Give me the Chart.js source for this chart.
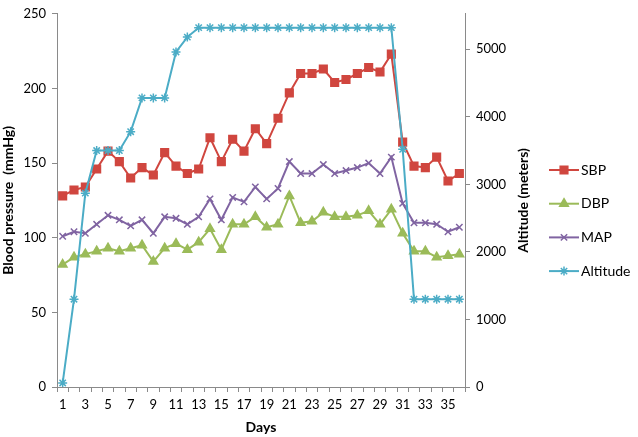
<!DOCTYPE html>
<html>
<head>
<meta charset="utf-8">
<script src="https://cdn.jsdelivr.net/npm/chart.js@4.4.1/dist/chart.umd.min.js"></script>
<style>
  html, body { margin: 0; padding: 0; background: #fff; }
  #wrap { width: 638px; height: 437px; }
</style>
</head>
<body>
<div id="wrap"><canvas id="bpChart"></canvas></div>
<script>
// days of the trek
const days = [1, 2, 3, 4, 5, 6, 7, 8, 9, 10, 11, 12, 13, 14, 15, 16, 17, 18,
              19, 20, 21, 22, 23, 24, 25, 26, 27, 28, 29, 30, 31, 32, 33, 34, 35, 36];

// blood pressure (mmHg)
const sbp = [128, 132, 134, 146, 158, 151, 140, 147, 142, 157, 148, 143, 146, 167, 151, 166, 158, 173,
             163, 180, 197, 210, 210, 213, 204, 206, 210, 214, 211, 223, 164, 148, 147, 154, 138, 143];
const dbp = [82, 87, 89, 91, 93, 91, 93, 95, 84, 93, 96, 92, 97, 106, 92, 109, 109, 114,
             107, 109, 128, 110, 111, 117, 114, 114, 115, 118, 109, 119, 103, 91, 91, 87, 88, 89];
const map = [101, 104, 103, 109, 115, 112, 108, 112, 103, 114, 113, 109, 114, 126, 112, 127, 124, 134,
             126, 133, 151, 143, 143, 149, 143, 145, 147, 150, 143, 154, 123, 110, 110, 109, 104, 107];

// altitude (meters)
const altitude = [60, 1300, 2870, 3500, 3500, 3500, 3780, 4280, 4280, 4280, 4960, 5180, 5320, 5320, 5320, 5320, 5320, 5320,
                  5320, 5320, 5320, 5320, 5320, 5320, 5320, 5320, 5320, 5320, 5320, 5320, 3520, 1300, 1300, 1300, 1300, 1300];

// tick labels
const dayTickLabels = [1, 3, 5, 7, 9, 11, 13, 15, 17, 19, 21, 23, 25, 27, 29, 31, 33, 35];
const bpTicks = [0, 50, 100, 150, 200, 250];
const altTicks = [0, 1000, 2000, 3000, 4000, 5000];

const FONT = 'Lato, "Open Sans", sans-serif';
const AXIS_GREY = '#8a8a8a';

const series = [
  { label: 'SBP', data: sbp, color: '#D0463F', style: 'rect', radius: 5.4, axis: 'y' },
  { label: 'DBP', data: dbp, color: '#9BBB59', style: 'triangle', radius: 5, axis: 'y' },
  { label: 'MAP', data: map, color: '#8064A2', style: 'crossRot', radius: 4.5, axis: 'y' },
  { label: 'Altitude', data: altitude, color: '#4BACC6', style: 'star', radius: 4.5, axis: 'y1' }
];

// right axis title + excel style legend (line with marker)
const extras = {
  id: 'extras',
  afterDraw(chart) {
    const ctx = chart.ctx;
    const area = chart.chartArea;
    ctx.save();
    ctx.translate(523, (area.top + area.bottom) / 2);
    ctx.rotate(-Math.PI / 2);
    ctx.font = 'bold 14px ' + FONT;
    ctx.fillStyle = '#000';
    ctx.textAlign = 'center';
    ctx.textBaseline = 'middle';
    ctx.fillText('Altitude (meters)', 0, 0);
    ctx.restore();

    series.forEach((s, i) => {
      const y = 170 + i * 33.7;
      ctx.save();
      ctx.strokeStyle = s.color;
      ctx.fillStyle = s.color;
      ctx.lineWidth = 2;
      ctx.beginPath();
      ctx.moveTo(549, y);
      ctx.lineTo(579, y);
      ctx.stroke();
      ctx.lineWidth = 1.5;
      Chart.helpers.drawPoint(ctx, { pointStyle: s.style, radius: s.radius, rotation: 0, borderWidth: 1.5 }, 564, y);
      ctx.fillStyle = '#000';
      ctx.font = '14px ' + FONT;
      ctx.textAlign = 'left';
      ctx.textBaseline = 'middle';
      ctx.fillText(s.label, 581, y);
      ctx.restore();
    });
  }
};

new Chart(document.getElementById('bpChart').getContext('2d'), {
  type: 'line',
  data: {
    labels: days,
    datasets: series.map((s, i) => ({
      label: s.label,
      data: s.data,
      yAxisID: s.axis,
      borderColor: s.color,
      backgroundColor: s.color,
      borderWidth: 2,
      pointStyle: s.style,
      pointRadius: s.radius,
      pointBorderWidth: 1.5,
      pointBackgroundColor: s.color,
      pointBorderColor: s.color,
      tension: 0,
      order: s.label === 'Altitude' ? 0 : i + 1
    }))
  },
  options: {
    responsive: true,
    maintainAspectRatio: false,
    animation: false,
    layout: { padding: { top: 4 } },
    plugins: {
      legend: { display: false },
      tooltip: { enabled: false },
      title: { display: false }
    },
    scales: {
      x: {
        type: 'category',
        offset: true,
        grid: { display: true, drawOnChartArea: false, offset: true, tickLength: 5, color: AXIS_GREY },
        border: { color: AXIS_GREY, width: 1 },
        ticks: {
          autoSkip: false,
          maxRotation: 0,
          padding: 5,
          color: '#000',
          font: { family: FONT, size: 13 },
          callback: function(value) {
            const d = days[value];
            return dayTickLabels.includes(d) ? String(d) : '';
          }
        },
        title: { display: true, text: 'Days', color: '#000', font: { family: FONT, size: 14, weight: 'bold' }, padding: { top: 4, bottom: 1 } },
        afterFit: s => { s.height = 50; }
      },
      y: {
        position: 'left',
        min: bpTicks[0],
        max: bpTicks[bpTicks.length - 1],
        grid: { display: true, drawOnChartArea: false, tickLength: 5, color: AXIS_GREY },
        border: { color: AXIS_GREY, width: 1 },
        ticks: { padding: 6, color: '#000', font: { family: FONT, size: 13 }, callback: v => String(v) },
        afterBuildTicks: s => { s.ticks = bpTicks.map(v => ({ value: v })); },
        title: { display: true, text: 'Blood pressure  (mmHg)', color: '#000', font: { family: FONT, size: 14, weight: 'bold' }, padding: { top: 0, bottom: 2 } },
        afterFit: s => { s.width = 57; }
      },
      y1: {
        position: 'right',
        min: 0,
        max: 5525,
        grid: { display: true, drawOnChartArea: false, tickLength: 5, color: AXIS_GREY },
        border: { color: AXIS_GREY, width: 1 },
        ticks: { padding: 6, color: '#000', font: { family: FONT, size: 13 }, callback: v => String(v) },
        afterBuildTicks: s => { s.ticks = altTicks.map(v => ({ value: v })); },
        title: { display: false },
        afterFit: s => { s.width = 173; }
      }
    }
  },
  plugins: [extras]
});
</script>
</body>
</html>
